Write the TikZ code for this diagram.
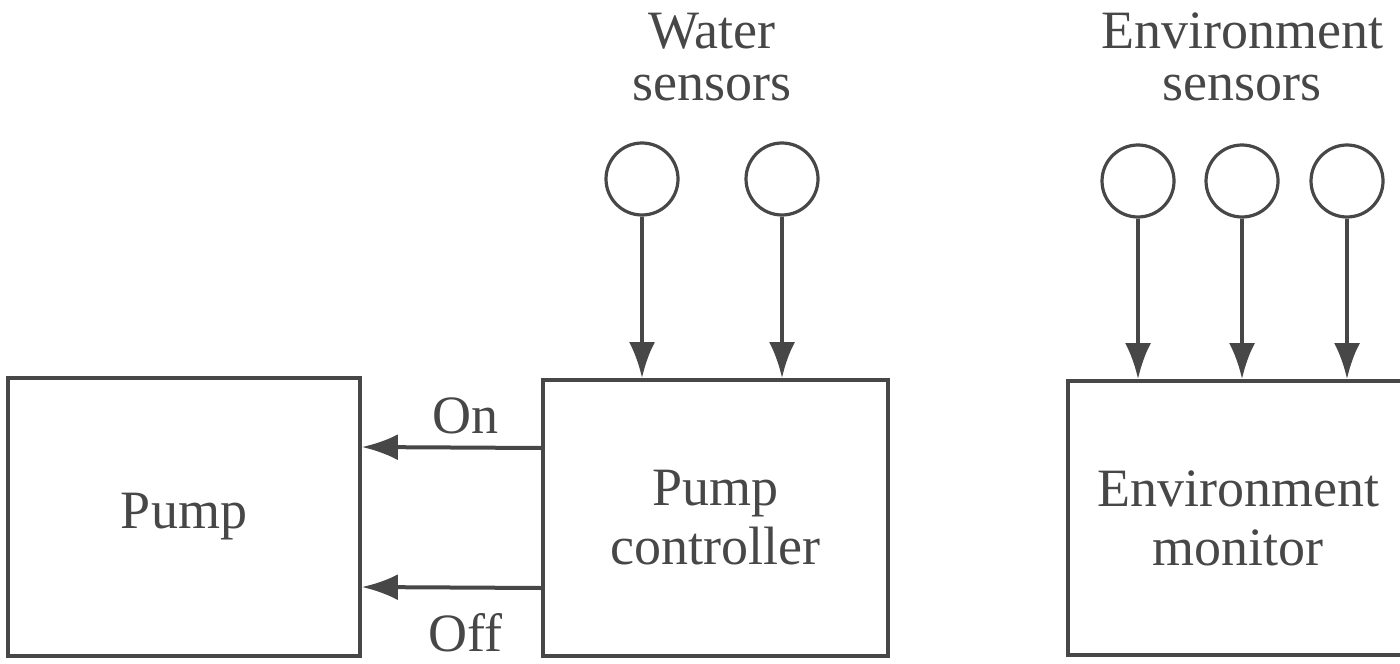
\documentclass[tikz,border=0pt]{standalone}
\usepackage{fontspec}
\setmainfont{Liberation Serif}
\usepackage{tikz}
\usetikzlibrary{arrows.meta,positioning}

\definecolor{inkgray}{HTML}{474747}

\begin{document}
\begin{tikzpicture}[x=0.5pt,y=-0.5pt,>=Latex,
  unitbox/.style={draw=inkgray,line width=1.9pt,text=inkgray,align=center,inner sep=0pt,
    font=\fontsize{27}{29.5}\selectfont},
  sensor/.style={draw=inkgray,line width=1.6pt,circle,minimum size=36pt,inner sep=0pt},
  caption/.style={text=inkgray,align=center,inner sep=0pt,font=\fontsize{27}{26}\selectfont},
  signal/.style={draw=inkgray,line width=2pt,-{Latex[length=18pt,width=13pt]}}]
\useasboundingbox (0,0) rectangle (1400,663);
% boxes
\node[unitbox,minimum width=176pt,minimum height=139pt] (pump) at (184,517) {Pump};
\node[unitbox,minimum width=172.5pt,minimum height=138pt] (ctrl) at (715.5,518) {Pump\\controller};
\node[unitbox,minimum width=170pt,minimum height=137pt] (envmon) at (1238,518) {Environment\\monitor};
% sensors
\node[caption] (wlabel) at (712,57) {Water\\sensors};
\node[sensor] (ws1) at (642,179) {};
\node[sensor] (ws2) at (782,179) {};
\node[caption] (elabel) at (1242,57) {Environment\\sensors};
\node[sensor] (es1) at (1138,181) {};
\node[sensor] (es2) at (1242,181) {};
\node[sensor] (es3) at (1347,181) {};
% sensor lines
\draw[signal] (ws1.south) -- (ws1 |- ctrl.north);
\draw[signal] (ws2.south) -- (ws2 |- ctrl.north);
\draw[signal] (es1.south) -- (es1 |- envmon.north);
\draw[signal] (es2.south) -- (es2 |- envmon.north);
\draw[signal] (es3.south) -- (es3 |- envmon.north);
% on / off
\draw[signal] ([yshift=35pt]ctrl.west) -- node[pos=0.42,above=6pt,caption] (on) {On} ([yshift=35pt]pump.east);
\draw[signal] ([yshift=-35pt]ctrl.west) -- node[pos=0.42,below=12pt,caption] (off) {Off} ([yshift=-35pt]pump.east);
\end{tikzpicture}
\end{document}
